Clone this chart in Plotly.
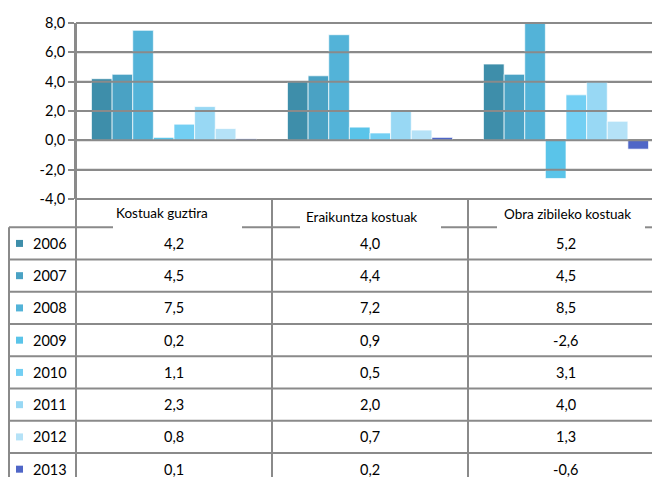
import plotly.graph_objects as go

categories = ["Kostuak guztira", "Eraikuntza kostuak", "Obra zibileko kostuak"]
years = ["2006", "2007", "2008", "2009", "2010", "2011", "2012", "2013"]
v2006 = [4.2, 4.0, 5.2]
v2007 = [4.5, 4.4, 4.5]
v2008 = [7.5, 7.2, 8.5]
v2009 = [0.2, 0.9, -2.6]
v2010 = [1.1, 0.5, 3.1]
v2011 = [2.3, 2.0, 4.0]
v2012 = [0.8, 0.7, 1.3]
v2013 = [0.1, 0.2, -0.6]
series = [v2006, v2007, v2008, v2009, v2010, v2011, v2012, v2013]
colors = ["#3E8EAA", "#4AA2C4", "#53B3D8", "#5AC4E9", "#73CFF3", "#98D8F4", "#B5E2F7", "#4F66C7"]
y_ticks = [-4, -2, 0, 2, 4, 6, 8]
y_ticktext = ["-4,0", "-2,0", "0,0", "2,0", "4,0", "6,0", "8,0"]

W, H = 652, 477
L, T, PW, PH = 76, 23, 576, 176
GRID = "#8a8a8a"
FONT = "Lato"

x_range = [-0.5, -0.5 + PW / 196.0]

def xp(px):
    return (px - L) / PW

def yp(py):
    return (T + PH - py) / PH

def yv(v):
    return (v - y_ticks[0]) / (y_ticks[-1] - y_ticks[0])

def cat_x(i):
    return (i - x_range[0]) / (x_range[1] - x_range[0])

fig = go.Figure()
for yr, vals, c in zip(years, series, colors):
    fig.add_trace(go.Bar(
        x=list(range(len(categories))), y=vals, name=yr,
        marker=dict(color=c, line=dict(color="rgba(255,255,255,0.85)", width=0.8)),
        showlegend=False,
    ))

shapes = []
line = dict(color=GRID, width=2)
# gridlines at the y ticks
for tv in y_ticks:
    shapes.append(dict(type="line", xref="paper", yref="paper", x0=0, x1=1.05,
                       y0=yv(tv), y1=yv(tv), line=line, layer="above"))
# y axis line
shapes.append(dict(type="line", xref="paper", yref="paper", x0=0, x1=0,
                   y0=0, y1=1, line=line, layer="above"))
row_top = 227.3
row_h = 32.25
n_rows = len(years)
for i in range(len(categories)):
    xx = cat_x(i - 0.5)
    shapes.append(dict(type="line", xref="paper", yref="paper", x0=xx, x1=xx,
                       y0=0, y1=yp(H + 5), line=line))
shapes.append(dict(type="line", xref="paper", yref="paper", x0=xp(9), x1=xp(9),
                   y0=yp(row_top), y1=yp(H + 5), line=line))
for a, b in [(9, 113), (242, 300), (441, 497), (645, 660)]:
    shapes.append(dict(type="line", xref="paper", yref="paper", x0=xp(a), x1=xp(b),
                       y0=yp(row_top), y1=yp(row_top), line=line))
for r in range(1, n_rows):
    yy = yp(row_top + r * row_h)
    shapes.append(dict(type="line", xref="paper", yref="paper", x0=xp(9), x1=xp(660),
                       y0=yy, y1=yy, line=line))

annotations = []
hdr_pos = [(162, 213), (361, 217), (567, 214)]
for cat, (hx, hy) in zip(categories, hdr_pos):
    annotations.append(dict(text=cat, xref="paper", yref="paper", x=xp(hx), y=yp(hy),
                            showarrow=False, xanchor="center", yanchor="middle",
                            font=dict(family=FONT, size=13.5, color="#000")))
for r, (yr, vals, c) in enumerate(zip(years, series, colors)):
    cy = row_top + (r + 0.5) * row_h
    shapes.append(dict(type="rect", xref="paper", yref="paper",
                       x0=xp(16), x1=xp(23), y0=yp(cy - 3.5), y1=yp(cy + 3.5),
                       fillcolor=c, line=dict(width=0)))
    annotations.append(dict(text=yr, xref="paper", yref="paper", x=xp(31), y=yp(cy),
                            showarrow=False, xanchor="left", yanchor="middle",
                            font=dict(family=FONT, size=14.5, color="#000")))
    for i, v in enumerate(vals):
        annotations.append(dict(text=f"{v:.1f}".replace(".", ","), xref="paper", yref="paper",
                                x=cat_x(i), y=yp(cy), showarrow=False,
                                xanchor="center", yanchor="middle",
                                font=dict(family=FONT, size=14.5, color="#000")))

fig.update_layout(
    template="none",
    width=W, height=H,
    margin=dict(l=L, r=W - L - PW, t=T, b=H - T - PH, pad=0),
    paper_bgcolor="white", plot_bgcolor="white",
    barmode="group", bargap=0.158, bargroupgap=0,
    shapes=shapes, annotations=annotations,
    xaxis=dict(range=x_range, showticklabels=False, showgrid=False, zeroline=False,
               showline=False, ticks=""),
    yaxis=dict(range=[y_ticks[0], y_ticks[-1]], tickmode="array",
               tickvals=y_ticks, ticktext=y_ticktext,
               showgrid=True, gridcolor=GRID, gridwidth=2,
               zeroline=True, zerolinecolor=GRID, zerolinewidth=2,
               showline=True, linecolor=GRID, linewidth=2,
               ticks="outside", ticklen=6, tickcolor=GRID, tickwidth=2,
               tickfont=dict(family=FONT, size=14.5, color="#000")),
)

fig.write_html(
    "out.html",
    config={"displayModeBar": False},
    post_script="document.body.style.margin='0';document.body.style.overflow='hidden';",
)
